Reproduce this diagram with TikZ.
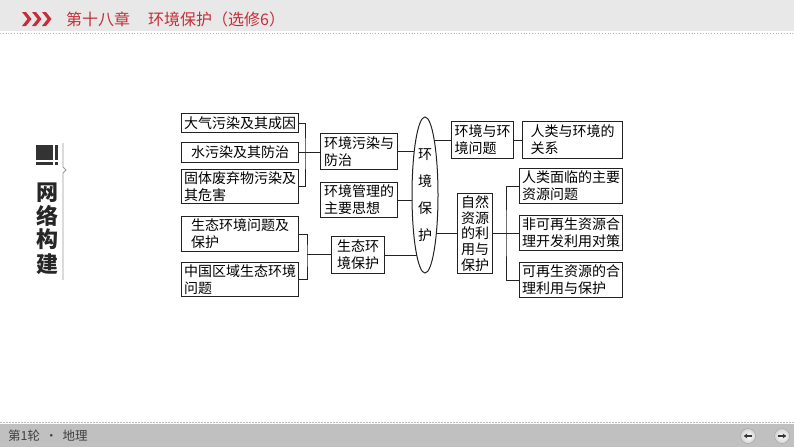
\documentclass[tikz,border=0pt]{standalone}
\usepackage{fontspec}
\newfontfamily\cjk{Noto Sans CJK SC}
\usetikzlibrary{shapes.geometric,calc,arrows.meta}
\definecolor{hdrbg}{HTML}{E8E8E8}
\definecolor{ftrbg}{HTML}{C0C0C0}
\definecolor{hdrred}{HTML}{C42E3A}
\definecolor{ink}{HTML}{222222}
\begin{document}
\begin{tikzpicture}[x=1pt,y=-1pt,
  box/.style={draw=ink, line width=1pt, inner sep=0pt, align=left, anchor=north west,
    font=\cjk\fontsize{14}{17}\selectfont},
  conn/.style={draw=ink, line width=0.9pt},
  side/.style={font=\cjk\bfseries\fontsize{22}{22}\selectfont, text=black!85},
]
\useasboundingbox (0,0) rectangle (794,447);
% header
\fill[hdrbg] (0,0) rectangle (794,31);
\draw[gray!60, line width=0.8pt, dotted] (0,33) -- (794,33);
\foreach \cx in {22,32,42}{
  \fill[hdrred] (\cx,12) -- (\cx+4,12) -- (\cx+9.5,19) -- (\cx+4,26) -- (\cx,26) -- (\cx+5.5,19) -- cycle;
}
\node[anchor=west, inner sep=0pt, text=hdrred, font=\cjk\fontsize{16}{16}\selectfont] (title) at (66,19) {第十八章\hspace{18pt}环境保护（选修6）};
% footer
\draw[gray!50, line width=0.6pt, dash pattern=on 2pt off 1pt] (0,422) -- (794,422);
\fill[ftrbg] (0,424) rectangle (794,447);
\node[anchor=west, inner sep=0pt, text=black!75, font=\cjk\fontsize{12.5}{13}\selectfont] (foot) at (8,436) {第1轮\hspace{5pt}·\hspace{5pt}地理};
\foreach \bx/\dir in {748/-1,782/1}{
  \shade[inner color=white, outer color=gray!35] (\bx,436) circle (7.5);
  \draw[gray!70, line width=0.5pt] (\bx,436) circle (7.5);
  \draw[black!80, line width=1.3pt, -{Stealth[length=3.5pt,width=5pt]}] (\bx-\dir*3.8,436) -- (\bx+\dir*4.2,436);
}
% side label
\fill[black!80] (36,145) rectangle (53,160);
\fill[black!80] (36,162) rectangle (53,165);
\fill[black!80] (55,145) rectangle (57.5,160);
\fill[black!80] (55,162) rectangle (57.5,165);
\draw[gray!80, line width=0.9pt] (63,143) -- (63,167) -- (66,170) -- (63,173) -- (63,280);
\node[side, inner sep=0pt] (s1) at (47.5,193) {网};
\node[side, inner sep=0pt] (s2) at (47.5,216) {络};
\node[side, inner sep=0pt] (s3) at (47.5,239) {构};
\node[side, inner sep=0pt] (s4) at (47.5,264) {建};
% boxes
\node[box, minimum width=117, minimum height=19] (b1) at (181,113) {大气污染及其成因};
\node[box, minimum width=117, minimum height=20] (b2) at (181,142) {水污染及其防治};
\node[box, minimum width=117, minimum height=34] (b3) at (181,169) {固体废弃物污染及\\其危害};
\node[box, minimum width=77, minimum height=36] (m1) at (320,133) {环境污染与\\防治};
\node[box, minimum width=77, minimum height=35] (m2) at (320,182) {环境管理的\\主要思想};
\node[box, minimum width=117, minimum height=35] (b4) at (181,216) {生态环境问题及\\保护};
\node[box, minimum width=117, minimum height=34] (b5) at (181,262) {中国区域生态环境\\问题};
\node[box, minimum width=53, minimum height=37] (m3) at (331,236) {生态环\\境保护};
\node[box, minimum width=62, minimum height=37] (r1) at (451,121) {环境与环\\境问题};
\node[box, minimum width=100, minimum height=37] (r2) at (522,121) {人类与环境的\\关系};
\node[box, minimum width=35, minimum height=80, font=\cjk\fontsize{14}{15.6}\selectfont] (r3) at (457,193) {自然\\资源\\的利\\用与\\保护};
\node[box, minimum width=103, minimum height=35] (r4) at (519,168) {人类面临的主要\\资源问题};
\node[box, minimum width=103, minimum height=35] (r5) at (519,215) {非可再生资源合\\理开发利用对策};
\node[box, minimum width=103, minimum height=35] (r6) at (519,262) {可再生资源的合\\理利用与保护};
% junctions
\coordinate (ellc) at (425,195);
\coordinate (j1) at (305,152);
\coordinate (j2) at (307,254.5);
\coordinate (j3) at (506,233);
% connectors
\draw[conn] (b1.east) -| (j1) |- (b3.east);
\draw[conn] (b2.east) -- (b2.east -| m1.west);
\draw[conn] (b4.east) -| (j2) |- (b5.east);
\draw[conn] (j2) -- (j2 -| m3.west);
\draw[conn] (m1.east) -- (m1.east -| ellc);
\draw[conn] (m2.east) -- (m2.east -| ellc);
\draw[conn] (m3.east) -- (m3.east -| ellc);
\draw[conn] (ellc |- r1.west) -- (r1.west);
\draw[conn] (ellc |- r3.east) -- (r3.west);
\draw[conn] (r1.east) -- (r2.west);
\draw[conn] (r4.west) -| (j3) |- (r6.west);
\draw[conn] (r3.east) -- (r3.east -| r5.west);
% ellipse
\node[ellipse, draw=ink, line width=1pt, fill=white, inner sep=0pt, minimum width=26, minimum height=156,
  align=center, font=\cjk\fontsize{14}{27}\selectfont] (ell) at (ellc) {环\\境\\保\\护};
\end{tikzpicture}
\end{document}
